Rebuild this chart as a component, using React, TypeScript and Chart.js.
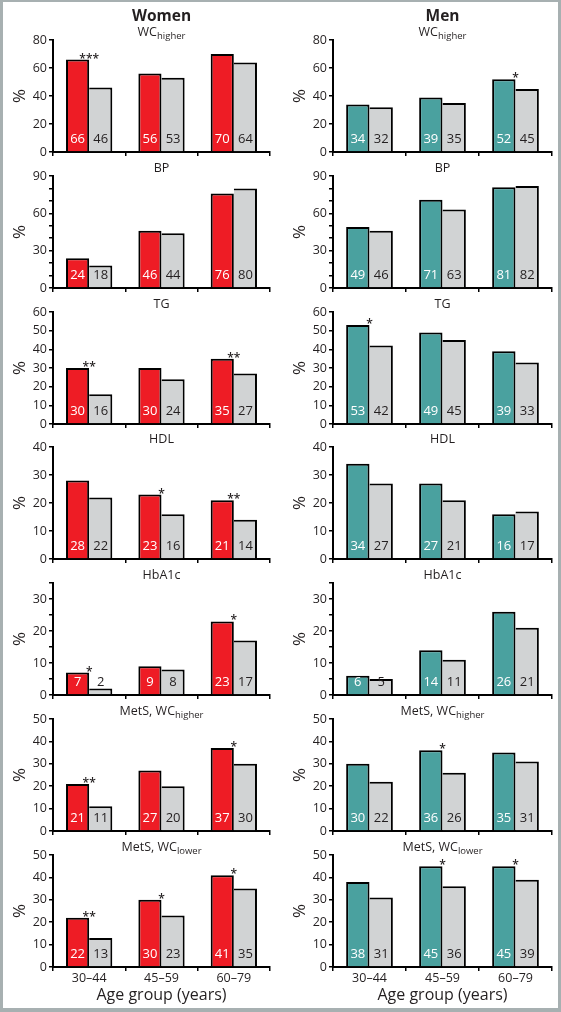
import React, { useEffect, useRef } from 'react';
import { Chart, registerables } from 'chart.js';

Chart.register(...registerables);

// ---------- data ----------
const ageGroups = ['30–44', '45–59', '60–79'];

// Women (red) vs comparison (gray)
const womenWcHigher = [66, 56, 70];
const womenWcHigherRef = [46, 53, 64];
const womenWcHigherSig = ['***', '', ''];
const womenBp = [24, 46, 76];
const womenBpRef = [18, 44, 80];
const womenBpSig = ['', '', ''];
const womenTg = [30, 30, 35];
const womenTgRef = [16, 24, 27];
const womenTgSig = ['**', '', '**'];
const womenHdl = [28, 23, 21];
const womenHdlRef = [22, 16, 14];
const womenHdlSig = ['', '*', '**'];
const womenHba1c = [7, 9, 23];
const womenHba1cRef = [2, 8, 17];
const womenHba1cSig = ['*', '', '*'];
const womenMetsHigher = [21, 27, 37];
const womenMetsHigherRef = [11, 20, 30];
const womenMetsHigherSig = ['**', '', '*'];
const womenMetsLower = [22, 30, 41];
const womenMetsLowerRef = [13, 23, 35];
const womenMetsLowerSig = ['**', '*', '*'];

// Men (teal) vs comparison (gray)
const menWcHigher = [34, 39, 52];
const menWcHigherRef = [32, 35, 45];
const menWcHigherSig = ['', '', '*'];
const menBp = [49, 71, 81];
const menBpRef = [46, 63, 82];
const menBpSig = ['', '', ''];
const menTg = [53, 49, 39];
const menTgRef = [42, 45, 33];
const menTgSig = ['*', '', ''];
const menHdl = [34, 27, 16];
const menHdlRef = [27, 21, 17];
const menHdlSig = ['', '', ''];
const menHba1c = [6, 14, 26];
const menHba1cRef = [5, 11, 21];
const menHba1cSig = ['', '', ''];
const menMetsHigher = [30, 36, 35];
const menMetsHigherRef = [22, 26, 31];
const menMetsHigherSig = ['', '*', ''];
const menMetsLower = [38, 45, 45];
const menMetsLowerRef = [31, 36, 39];
const menMetsLowerSig = ['', '*', '*'];

const panelTitles = [
  { main: 'WC', sub: 'higher' },
  { main: 'BP', sub: '' },
  { main: 'TG', sub: '' },
  { main: 'HDL', sub: '' },
  { main: 'HbA1c', sub: '' },
  { main: 'MetS, WC', sub: 'higher' },
  { main: 'MetS, WC', sub: 'lower' },
];
const axisMax = [80, 90, 60, 40, 35, 50, 50];
const tickStep = [20, 10, 10, 10, 5, 10, 10];
const labelStep = [20, 30, 10, 10, 10, 10, 10];

const columnTitles = ['Women', 'Men'];
const xAxisTitle = 'Age group (years)';
const yAxisTitle = '%';

const womenSeries = [womenWcHigher, womenBp, womenTg, womenHdl, womenHba1c, womenMetsHigher, womenMetsLower];
const womenRefSeries = [womenWcHigherRef, womenBpRef, womenTgRef, womenHdlRef, womenHba1cRef, womenMetsHigherRef, womenMetsLowerRef];
const womenSigSeries = [womenWcHigherSig, womenBpSig, womenTgSig, womenHdlSig, womenHba1cSig, womenMetsHigherSig, womenMetsLowerSig];
const menSeries = [menWcHigher, menBp, menTg, menHdl, menHba1c, menMetsHigher, menMetsLower];
const menRefSeries = [menWcHigherRef, menBpRef, menTgRef, menHdlRef, menHba1cRef, menMetsHigherRef, menMetsLowerRef];
const menSigSeries = [menWcHigherSig, menBpSig, menTgSig, menHdlSig, menHba1cSig, menMetsHigherSig, menMetsLowerSig];

// ---------- styles ----------
const RED = '#ee1c25';
const TEAL = '#4aa19f';
const GRAY = '#d1d3d4';
const INK = '#231f20';
const FONT = '"Open Sans", "Noto Sans", sans-serif';

// ---------- layout ----------
const FIRST_ZERO = 152;
const PITCH = 135.83;
const PLOT_H = 112;
const PLOT_LEFT = 53;

const decorPlugin = {
  id: 'panelDecor',
  afterDatasetsDraw(chart: any, _args: any, opts: any) {
    const { ctx, chartArea } = chart;
    const zero = chart.scales.y.getPixelForValue(0);
    ctx.save();
    // value labels at bar bases
    ctx.textAlign = 'center';
    ctx.textBaseline = 'alphabetic';
    ctx.font = `13px ${FONT}`;
    chart.data.datasets.forEach((ds: any, di: number) => {
      const meta = chart.getDatasetMeta(di);
      meta.data.forEach((bar: any, i: number) => {
        ctx.fillStyle = di === 0 ? '#ffffff' : INK;
        ctx.fillText(String(ds.data[i]), bar.x, zero - 9);
      });
    });
    // significance marks
    const m0 = chart.getDatasetMeta(0);
    const m1 = chart.getDatasetMeta(1);
    ctx.fillStyle = INK;
    ctx.font = `600 12px ${FONT}`;
    (opts.sig || []).forEach((s: string, i: number) => {
      if (!s) return;
      const x = (m0.data[i].x + m1.data[i].x) / 2;
      const top = Math.min(m0.data[i].y, m1.data[i].y);
      ctx.fillText(s, x, top + 3);
    });
    // panel title with optional subscript
    const cx = (chartArea.left + chartArea.right) / 2;
    const base = chartArea.top - 4;
    ctx.font = `12.5px ${FONT}`;
    const w1 = ctx.measureText(opts.title.main).width;
    ctx.font = `9.5px ${FONT}`;
    const w2 = opts.title.sub ? ctx.measureText(opts.title.sub).width : 0;
    const start = cx - (w1 + w2) / 2;
    ctx.textAlign = 'left';
    ctx.font = `12.5px ${FONT}`;
    ctx.fillText(opts.title.main, start, base);
    if (opts.title.sub) {
      ctx.font = `9.5px ${FONT}`;
      ctx.fillText(opts.title.sub, start + w1, base + 3);
    }
    // column header
    if (opts.header) {
      ctx.textAlign = 'center';
      ctx.font = `bold 15.5px ${FONT}`;
      ctx.fillText(opts.header, cx, 21);
    }
    ctx.restore();
  },
};

function Panel({ col, row }: { col: number; row: number }) {
  const ref = useRef<HTMLCanvasElement>(null);
  const zero = Math.round(FIRST_ZERO + row * PITCH);
  const plotTop = zero - PLOT_H;
  const canvasTop = row === 0 ? 0 : plotTop - 26;
  const topPad = plotTop - canvasTop;
  const isBottom = row === 6;
  const bottom = isBottom ? 1008 : zero + 12;
  const xHeight = bottom - zero;
  const canvasLeft = col === 0 ? 0 : 280;
  const width = col === 0 ? 280 : 281;
  const plotRight = col === 0 ? 270 : 272;
  const height = bottom - canvasTop;

  useEffect(() => {
    const main = col === 0 ? womenSeries[row] : menSeries[row];
    const refv = col === 0 ? womenRefSeries[row] : menRefSeries[row];
    const sig = col === 0 ? womenSigSeries[row] : menSigSeries[row];
    const lStep = labelStep[row];
    const chart = new Chart(ref.current as HTMLCanvasElement, {
      type: 'bar',
      data: {
        labels: ageGroups,
        datasets: [
          {
            data: main,
            backgroundColor: col === 0 ? RED : TEAL,
            borderColor: '#000',
            borderWidth: { top: 2, left: 2, right: 2, bottom: 0 } as any,
            borderSkipped: false,
            barPercentage: 1,
            categoryPercentage: 0.64,
          },
          {
            data: refv,
            backgroundColor: GRAY,
            borderColor: '#000',
            borderWidth: { top: 2, left: 0, right: 2, bottom: 0 } as any,
            borderSkipped: false,
            barPercentage: 1,
            categoryPercentage: 0.64,
          },
        ],
      },
      options: {
        responsive: false,
        maintainAspectRatio: false,
        animation: false,
        layout: { padding: { top: topPad, left: 0, right: width - plotRight, bottom: 0 } },
        plugins: {
          legend: { display: false },
          tooltip: { enabled: false },
          panelDecor: { sig, title: panelTitles[row], header: row === 0 ? columnTitles[col] : '' },
        } as any,
        scales: {
          x: {
            grid: { display: true, drawOnChartArea: false, drawTicks: true, tickLength: 4, color: '#000', lineWidth: 1.5, offset: true },
            border: { display: true, color: '#000', width: 2 },
            ticks: { display: isBottom, font: { family: FONT, size: 12.5 }, color: INK, padding: 0, autoSkip: false, maxRotation: 0 },
            title: { display: isBottom, text: xAxisTitle, font: { family: FONT, size: 16 }, color: INK, padding: { top: 0, bottom: 3 } },
            afterFit: (s: any) => { s.height = xHeight; },
          },
          y: {
            min: 0,
            max: axisMax[row],
            grid: { display: true, drawOnChartArea: false, drawTicks: true, tickLength: 4, color: '#000', lineWidth: 1.5 },
            border: { display: true, color: '#000', width: 2 },
            ticks: {
              stepSize: tickStep[row],
              autoSkip: false,
              font: { family: FONT, size: 12.5 },
              color: INK,
              padding: 2,
              callback: (v: any) => {
                const n = Math.round(Number(v));
                return n % lStep === 0 ? String(n) : '';
              },
            },
            title: { display: true, text: yAxisTitle, font: { family: FONT, size: 17 }, color: INK, padding: { top: 10, bottom: 0 } },
            afterFit: (s: any) => { s.width = PLOT_LEFT; },
          },
        },
      } as any,
      plugins: [decorPlugin as any],
    });
    return () => chart.destroy();
  }, []);

  return (
    <canvas
      ref={ref}
      width={width}
      height={height}
      style={{ position: 'absolute', left: canvasLeft, top: canvasTop, width, height }}
    />
  );
}

export default function App() {
  const rows = [0, 1, 2, 3, 4, 5, 6];
  return (
    <div style={{ position: 'relative', width: 561, height: 1012, background: '#fff', overflow: 'hidden' }}>
      <style>{'body{margin:0;}'}</style>
      {rows.map((r) => (
        <React.Fragment key={r}>
          <Panel col={0} row={r} />
          <Panel col={1} row={r} />
        </React.Fragment>
      ))}
      <div
        style={{
          position: 'absolute', left: 0, top: 0, width: 561, height: 1012, boxSizing: 'border-box',
          borderStyle: 'solid', borderColor: '#a7b0b1', borderWidth: '2px 3px 4px 3px', pointerEvents: 'none',
        }}
      />
    </div>
  );
}
